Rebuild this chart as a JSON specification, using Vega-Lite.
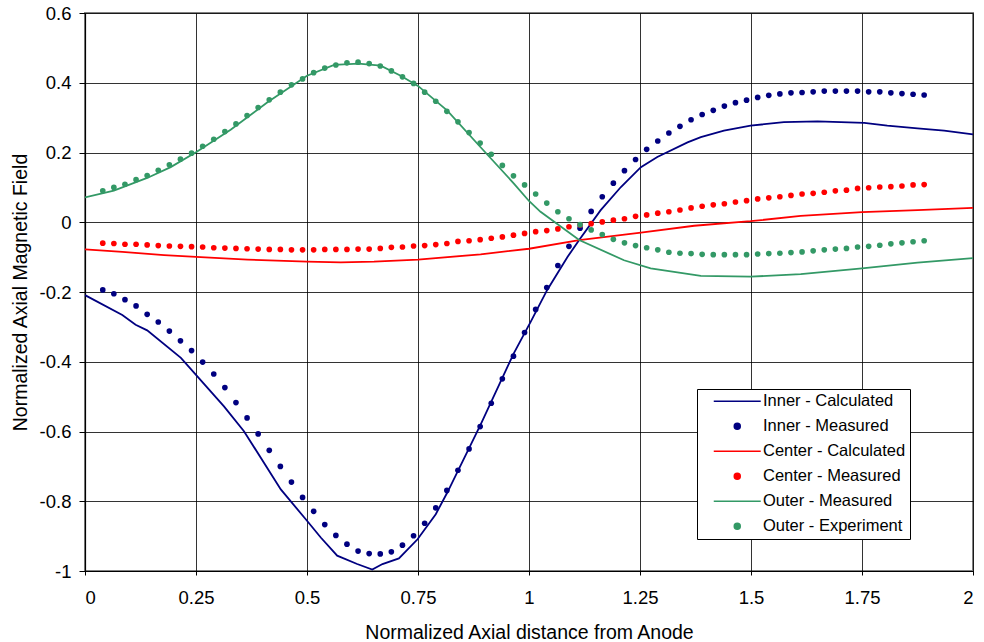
{
  "$schema": "https://vega.github.io/schema/vega-lite/v6.json",
  "autosize": "none",
  "width": 888,
  "height": 558,
  "padding": {"left": 85, "top": 13, "right": 11, "bottom": 71},
  "background": "white",
  "config": {
    "font": "Liberation Sans",
    "view": {"stroke": "#808080", "strokeWidth": 2},
    "axis": {
      "labelFont": "Liberation Sans",
      "titleFont": "Liberation Sans",
      "labelColor": "#000",
      "titleColor": "#000",
      "titleFontWeight": "normal",
      "domainColor": "#000",
      "domainWidth": 1.2,
      "tickColor": "#000",
      "gridColor": "#000",
      "gridOpacity": 0.8,
      "gridWidth": 1
    }
  },
  "datasets": {
    "lines": [
      {"series": "Inner - Calculated", "x": 0, "y": -0.209},
      {"series": "Inner - Calculated", "x": 0.084, "y": -0.266},
      {"series": "Inner - Calculated", "x": 0.114, "y": -0.294},
      {"series": "Inner - Calculated", "x": 0.14, "y": -0.31},
      {"series": "Inner - Calculated", "x": 0.216, "y": -0.389},
      {"series": "Inner - Calculated", "x": 0.253, "y": -0.442},
      {"series": "Inner - Calculated", "x": 0.313, "y": -0.528},
      {"series": "Inner - Calculated", "x": 0.358, "y": -0.599},
      {"series": "Inner - Calculated", "x": 0.441, "y": -0.766},
      {"series": "Inner - Calculated", "x": 0.5, "y": -0.856},
      {"series": "Inner - Calculated", "x": 0.531, "y": -0.904},
      {"series": "Inner - Calculated", "x": 0.568, "y": -0.956},
      {"series": "Inner - Calculated", "x": 0.613, "y": -0.98},
      {"series": "Inner - Calculated", "x": 0.647, "y": -0.996},
      {"series": "Inner - Calculated", "x": 0.67, "y": -0.98},
      {"series": "Inner - Calculated", "x": 0.707, "y": -0.964},
      {"series": "Inner - Calculated", "x": 0.749, "y": -0.909},
      {"series": "Inner - Calculated", "x": 0.79, "y": -0.837},
      {"series": "Inner - Calculated", "x": 0.816, "y": -0.775},
      {"series": "Inner - Calculated", "x": 0.891, "y": -0.58},
      {"series": "Inner - Calculated", "x": 0.966, "y": -0.375},
      {"series": "Inner - Calculated", "x": 1.004, "y": -0.285},
      {"series": "Inner - Calculated", "x": 1.041, "y": -0.194},
      {"series": "Inner - Calculated", "x": 1.087, "y": -0.099},
      {"series": "Inner - Calculated", "x": 1.113, "y": -0.051},
      {"series": "Inner - Calculated", "x": 1.161, "y": 0.034},
      {"series": "Inner - Calculated", "x": 1.207, "y": 0.101},
      {"series": "Inner - Calculated", "x": 1.252, "y": 0.158},
      {"series": "Inner - Calculated", "x": 1.289, "y": 0.187},
      {"series": "Inner - Calculated", "x": 1.357, "y": 0.229},
      {"series": "Inner - Calculated", "x": 1.387, "y": 0.244},
      {"series": "Inner - Calculated", "x": 1.439, "y": 0.263},
      {"series": "Inner - Calculated", "x": 1.499, "y": 0.277},
      {"series": "Inner - Calculated", "x": 1.574, "y": 0.287},
      {"series": "Inner - Calculated", "x": 1.65, "y": 0.289},
      {"series": "Inner - Calculated", "x": 1.755, "y": 0.285},
      {"series": "Inner - Calculated", "x": 1.807, "y": 0.277},
      {"series": "Inner - Calculated", "x": 1.875, "y": 0.269},
      {"series": "Inner - Calculated", "x": 1.935, "y": 0.263},
      {"series": "Inner - Calculated", "x": 2.0, "y": 0.252},
      {"series": "Center - Calculated", "x": 0, "y": -0.078},
      {"series": "Center - Calculated", "x": 0.084, "y": -0.085},
      {"series": "Center - Calculated", "x": 0.178, "y": -0.094},
      {"series": "Center - Calculated", "x": 0.25, "y": -0.099},
      {"series": "Center - Calculated", "x": 0.366, "y": -0.107},
      {"series": "Center - Calculated", "x": 0.5, "y": -0.113},
      {"series": "Center - Calculated", "x": 0.576, "y": -0.115},
      {"series": "Center - Calculated", "x": 0.651, "y": -0.113},
      {"series": "Center - Calculated", "x": 0.75, "y": -0.107},
      {"series": "Center - Calculated", "x": 0.891, "y": -0.092},
      {"series": "Center - Calculated", "x": 1.0, "y": -0.076},
      {"series": "Center - Calculated", "x": 1.113, "y": -0.051},
      {"series": "Center - Calculated", "x": 1.252, "y": -0.03},
      {"series": "Center - Calculated", "x": 1.372, "y": -0.01},
      {"series": "Center - Calculated", "x": 1.499, "y": 0.003},
      {"series": "Center - Calculated", "x": 1.612, "y": 0.018},
      {"series": "Center - Calculated", "x": 1.75, "y": 0.029},
      {"series": "Center - Calculated", "x": 1.875, "y": 0.035},
      {"series": "Center - Calculated", "x": 2.0, "y": 0.041},
      {"series": "Outer - Measured", "x": 0, "y": 0.071},
      {"series": "Outer - Measured", "x": 0.065, "y": 0.091},
      {"series": "Outer - Measured", "x": 0.14, "y": 0.127},
      {"series": "Outer - Measured", "x": 0.193, "y": 0.158},
      {"series": "Outer - Measured", "x": 0.25, "y": 0.201},
      {"series": "Outer - Measured", "x": 0.328, "y": 0.265},
      {"series": "Outer - Measured", "x": 0.411, "y": 0.344},
      {"series": "Outer - Measured", "x": 0.5, "y": 0.42},
      {"series": "Outer - Measured", "x": 0.561, "y": 0.451},
      {"series": "Outer - Measured", "x": 0.616, "y": 0.455},
      {"series": "Outer - Measured", "x": 0.666, "y": 0.449},
      {"series": "Outer - Measured", "x": 0.711, "y": 0.42},
      {"series": "Outer - Measured", "x": 0.75, "y": 0.391},
      {"series": "Outer - Measured", "x": 0.816, "y": 0.32},
      {"series": "Outer - Measured", "x": 0.891, "y": 0.215},
      {"series": "Outer - Measured", "x": 0.966, "y": 0.111},
      {"series": "Outer - Measured", "x": 1.0, "y": 0.061},
      {"series": "Outer - Measured", "x": 1.026, "y": 0.03},
      {"series": "Outer - Measured", "x": 1.113, "y": -0.051},
      {"series": "Outer - Measured", "x": 1.214, "y": -0.109},
      {"series": "Outer - Measured", "x": 1.274, "y": -0.132},
      {"series": "Outer - Measured", "x": 1.387, "y": -0.154},
      {"series": "Outer - Measured", "x": 1.499, "y": -0.156},
      {"series": "Outer - Measured", "x": 1.612, "y": -0.149},
      {"series": "Outer - Measured", "x": 1.75, "y": -0.132},
      {"series": "Outer - Measured", "x": 1.875, "y": -0.116},
      {"series": "Outer - Measured", "x": 2.0, "y": -0.103}
    ],
    "dots": [
      {"series": "Inner - Measured", "x": 0.04, "y": -0.194},
      {"series": "Inner - Measured", "x": 0.065, "y": -0.205},
      {"series": "Inner - Measured", "x": 0.09, "y": -0.222},
      {"series": "Inner - Measured", "x": 0.115, "y": -0.24},
      {"series": "Inner - Measured", "x": 0.14, "y": -0.264},
      {"series": "Inner - Measured", "x": 0.165, "y": -0.286},
      {"series": "Inner - Measured", "x": 0.19, "y": -0.312},
      {"series": "Inner - Measured", "x": 0.215, "y": -0.34},
      {"series": "Inner - Measured", "x": 0.24, "y": -0.368},
      {"series": "Inner - Measured", "x": 0.265, "y": -0.401},
      {"series": "Inner - Measured", "x": 0.29, "y": -0.435},
      {"series": "Inner - Measured", "x": 0.315, "y": -0.474},
      {"series": "Inner - Measured", "x": 0.34, "y": -0.517},
      {"series": "Inner - Measured", "x": 0.365, "y": -0.561},
      {"series": "Inner - Measured", "x": 0.39, "y": -0.607},
      {"series": "Inner - Measured", "x": 0.415, "y": -0.654},
      {"series": "Inner - Measured", "x": 0.44, "y": -0.7},
      {"series": "Inner - Measured", "x": 0.465, "y": -0.745},
      {"series": "Inner - Measured", "x": 0.49, "y": -0.789},
      {"series": "Inner - Measured", "x": 0.515, "y": -0.829},
      {"series": "Inner - Measured", "x": 0.54, "y": -0.867},
      {"series": "Inner - Measured", "x": 0.565, "y": -0.898},
      {"series": "Inner - Measured", "x": 0.59, "y": -0.923},
      {"series": "Inner - Measured", "x": 0.615, "y": -0.943},
      {"series": "Inner - Measured", "x": 0.64, "y": -0.95},
      {"series": "Inner - Measured", "x": 0.665, "y": -0.951},
      {"series": "Inner - Measured", "x": 0.69, "y": -0.945},
      {"series": "Inner - Measured", "x": 0.715, "y": -0.926},
      {"series": "Inner - Measured", "x": 0.74, "y": -0.899},
      {"series": "Inner - Measured", "x": 0.765, "y": -0.863},
      {"series": "Inner - Measured", "x": 0.79, "y": -0.819},
      {"series": "Inner - Measured", "x": 0.815, "y": -0.769},
      {"series": "Inner - Measured", "x": 0.84, "y": -0.711},
      {"series": "Inner - Measured", "x": 0.865, "y": -0.65},
      {"series": "Inner - Measured", "x": 0.89, "y": -0.586},
      {"series": "Inner - Measured", "x": 0.915, "y": -0.519},
      {"series": "Inner - Measured", "x": 0.94, "y": -0.449},
      {"series": "Inner - Measured", "x": 0.965, "y": -0.384},
      {"series": "Inner - Measured", "x": 0.99, "y": -0.316},
      {"series": "Inner - Measured", "x": 1.015, "y": -0.25},
      {"series": "Inner - Measured", "x": 1.04, "y": -0.187},
      {"series": "Inner - Measured", "x": 1.065, "y": -0.124},
      {"series": "Inner - Measured", "x": 1.09, "y": -0.069},
      {"series": "Inner - Measured", "x": 1.115, "y": -0.017},
      {"series": "Inner - Measured", "x": 1.14, "y": 0.031},
      {"series": "Inner - Measured", "x": 1.165, "y": 0.073},
      {"series": "Inner - Measured", "x": 1.19, "y": 0.112},
      {"series": "Inner - Measured", "x": 1.215, "y": 0.148},
      {"series": "Inner - Measured", "x": 1.24, "y": 0.18},
      {"series": "Inner - Measured", "x": 1.265, "y": 0.209},
      {"series": "Inner - Measured", "x": 1.29, "y": 0.233},
      {"series": "Inner - Measured", "x": 1.315, "y": 0.256},
      {"series": "Inner - Measured", "x": 1.34, "y": 0.275},
      {"series": "Inner - Measured", "x": 1.365, "y": 0.294},
      {"series": "Inner - Measured", "x": 1.39, "y": 0.309},
      {"series": "Inner - Measured", "x": 1.415, "y": 0.321},
      {"series": "Inner - Measured", "x": 1.44, "y": 0.333},
      {"series": "Inner - Measured", "x": 1.465, "y": 0.343},
      {"series": "Inner - Measured", "x": 1.49, "y": 0.35},
      {"series": "Inner - Measured", "x": 1.515, "y": 0.358},
      {"series": "Inner - Measured", "x": 1.54, "y": 0.364},
      {"series": "Inner - Measured", "x": 1.565, "y": 0.368},
      {"series": "Inner - Measured", "x": 1.59, "y": 0.371},
      {"series": "Inner - Measured", "x": 1.615, "y": 0.372},
      {"series": "Inner - Measured", "x": 1.64, "y": 0.374},
      {"series": "Inner - Measured", "x": 1.665, "y": 0.376},
      {"series": "Inner - Measured", "x": 1.69, "y": 0.376},
      {"series": "Inner - Measured", "x": 1.715, "y": 0.376},
      {"series": "Inner - Measured", "x": 1.74, "y": 0.376},
      {"series": "Inner - Measured", "x": 1.765, "y": 0.374},
      {"series": "Inner - Measured", "x": 1.79, "y": 0.374},
      {"series": "Inner - Measured", "x": 1.815, "y": 0.371},
      {"series": "Inner - Measured", "x": 1.84, "y": 0.369},
      {"series": "Inner - Measured", "x": 1.865, "y": 0.367},
      {"series": "Inner - Measured", "x": 1.89, "y": 0.365},
      {"series": "Center - Measured", "x": 0.04, "y": -0.06},
      {"series": "Center - Measured", "x": 0.065, "y": -0.061},
      {"series": "Center - Measured", "x": 0.09, "y": -0.063},
      {"series": "Center - Measured", "x": 0.115, "y": -0.063},
      {"series": "Center - Measured", "x": 0.14, "y": -0.065},
      {"series": "Center - Measured", "x": 0.165, "y": -0.067},
      {"series": "Center - Measured", "x": 0.19, "y": -0.068},
      {"series": "Center - Measured", "x": 0.215, "y": -0.069},
      {"series": "Center - Measured", "x": 0.24, "y": -0.07},
      {"series": "Center - Measured", "x": 0.265, "y": -0.071},
      {"series": "Center - Measured", "x": 0.29, "y": -0.073},
      {"series": "Center - Measured", "x": 0.315, "y": -0.074},
      {"series": "Center - Measured", "x": 0.34, "y": -0.075},
      {"series": "Center - Measured", "x": 0.365, "y": -0.076},
      {"series": "Center - Measured", "x": 0.39, "y": -0.077},
      {"series": "Center - Measured", "x": 0.415, "y": -0.078},
      {"series": "Center - Measured", "x": 0.44, "y": -0.078},
      {"series": "Center - Measured", "x": 0.465, "y": -0.079},
      {"series": "Center - Measured", "x": 0.49, "y": -0.079},
      {"series": "Center - Measured", "x": 0.515, "y": -0.079},
      {"series": "Center - Measured", "x": 0.54, "y": -0.078},
      {"series": "Center - Measured", "x": 0.565, "y": -0.078},
      {"series": "Center - Measured", "x": 0.59, "y": -0.078},
      {"series": "Center - Measured", "x": 0.615, "y": -0.077},
      {"series": "Center - Measured", "x": 0.64, "y": -0.077},
      {"series": "Center - Measured", "x": 0.665, "y": -0.075},
      {"series": "Center - Measured", "x": 0.69, "y": -0.072},
      {"series": "Center - Measured", "x": 0.715, "y": -0.071},
      {"series": "Center - Measured", "x": 0.74, "y": -0.068},
      {"series": "Center - Measured", "x": 0.765, "y": -0.067},
      {"series": "Center - Measured", "x": 0.79, "y": -0.064},
      {"series": "Center - Measured", "x": 0.815, "y": -0.061},
      {"series": "Center - Measured", "x": 0.84, "y": -0.055},
      {"series": "Center - Measured", "x": 0.865, "y": -0.053},
      {"series": "Center - Measured", "x": 0.89, "y": -0.05},
      {"series": "Center - Measured", "x": 0.915, "y": -0.046},
      {"series": "Center - Measured", "x": 0.94, "y": -0.042},
      {"series": "Center - Measured", "x": 0.965, "y": -0.037},
      {"series": "Center - Measured", "x": 0.99, "y": -0.032},
      {"series": "Center - Measured", "x": 1.015, "y": -0.027},
      {"series": "Center - Measured", "x": 1.04, "y": -0.024},
      {"series": "Center - Measured", "x": 1.065, "y": -0.019},
      {"series": "Center - Measured", "x": 1.09, "y": -0.013},
      {"series": "Center - Measured", "x": 1.115, "y": -0.008},
      {"series": "Center - Measured", "x": 1.14, "y": -0.004},
      {"series": "Center - Measured", "x": 1.165, "y": 0.001},
      {"series": "Center - Measured", "x": 1.19, "y": 0.006},
      {"series": "Center - Measured", "x": 1.215, "y": 0.01},
      {"series": "Center - Measured", "x": 1.24, "y": 0.017},
      {"series": "Center - Measured", "x": 1.265, "y": 0.021},
      {"series": "Center - Measured", "x": 1.29, "y": 0.026},
      {"series": "Center - Measured", "x": 1.315, "y": 0.03},
      {"series": "Center - Measured", "x": 1.34, "y": 0.035},
      {"series": "Center - Measured", "x": 1.365, "y": 0.041},
      {"series": "Center - Measured", "x": 1.39, "y": 0.046},
      {"series": "Center - Measured", "x": 1.415, "y": 0.05},
      {"series": "Center - Measured", "x": 1.44, "y": 0.053},
      {"series": "Center - Measured", "x": 1.465, "y": 0.058},
      {"series": "Center - Measured", "x": 1.49, "y": 0.062},
      {"series": "Center - Measured", "x": 1.515, "y": 0.067},
      {"series": "Center - Measured", "x": 1.54, "y": 0.07},
      {"series": "Center - Measured", "x": 1.565, "y": 0.073},
      {"series": "Center - Measured", "x": 1.59, "y": 0.077},
      {"series": "Center - Measured", "x": 1.615, "y": 0.081},
      {"series": "Center - Measured", "x": 1.64, "y": 0.083},
      {"series": "Center - Measured", "x": 1.665, "y": 0.086},
      {"series": "Center - Measured", "x": 1.69, "y": 0.09},
      {"series": "Center - Measured", "x": 1.715, "y": 0.092},
      {"series": "Center - Measured", "x": 1.74, "y": 0.097},
      {"series": "Center - Measured", "x": 1.765, "y": 0.099},
      {"series": "Center - Measured", "x": 1.79, "y": 0.101},
      {"series": "Center - Measured", "x": 1.815, "y": 0.102},
      {"series": "Center - Measured", "x": 1.84, "y": 0.104},
      {"series": "Center - Measured", "x": 1.865, "y": 0.107},
      {"series": "Center - Measured", "x": 1.89, "y": 0.108},
      {"series": "Outer - Experiment", "x": 0.04, "y": 0.09},
      {"series": "Outer - Experiment", "x": 0.065, "y": 0.1},
      {"series": "Outer - Experiment", "x": 0.09, "y": 0.109},
      {"series": "Outer - Experiment", "x": 0.115, "y": 0.122},
      {"series": "Outer - Experiment", "x": 0.14, "y": 0.134},
      {"series": "Outer - Experiment", "x": 0.165, "y": 0.149},
      {"series": "Outer - Experiment", "x": 0.19, "y": 0.165},
      {"series": "Outer - Experiment", "x": 0.215, "y": 0.181},
      {"series": "Outer - Experiment", "x": 0.24, "y": 0.198},
      {"series": "Outer - Experiment", "x": 0.265, "y": 0.218},
      {"series": "Outer - Experiment", "x": 0.29, "y": 0.238},
      {"series": "Outer - Experiment", "x": 0.315, "y": 0.26},
      {"series": "Outer - Experiment", "x": 0.34, "y": 0.282},
      {"series": "Outer - Experiment", "x": 0.365, "y": 0.306},
      {"series": "Outer - Experiment", "x": 0.39, "y": 0.329},
      {"series": "Outer - Experiment", "x": 0.415, "y": 0.351},
      {"series": "Outer - Experiment", "x": 0.44, "y": 0.373},
      {"series": "Outer - Experiment", "x": 0.465, "y": 0.394},
      {"series": "Outer - Experiment", "x": 0.49, "y": 0.411},
      {"series": "Outer - Experiment", "x": 0.515, "y": 0.429},
      {"series": "Outer - Experiment", "x": 0.54, "y": 0.442},
      {"series": "Outer - Experiment", "x": 0.565, "y": 0.451},
      {"series": "Outer - Experiment", "x": 0.59, "y": 0.457},
      {"series": "Outer - Experiment", "x": 0.615, "y": 0.459},
      {"series": "Outer - Experiment", "x": 0.64, "y": 0.455},
      {"series": "Outer - Experiment", "x": 0.665, "y": 0.448},
      {"series": "Outer - Experiment", "x": 0.69, "y": 0.434},
      {"series": "Outer - Experiment", "x": 0.715, "y": 0.417},
      {"series": "Outer - Experiment", "x": 0.74, "y": 0.398},
      {"series": "Outer - Experiment", "x": 0.765, "y": 0.373},
      {"series": "Outer - Experiment", "x": 0.79, "y": 0.347},
      {"series": "Outer - Experiment", "x": 0.815, "y": 0.318},
      {"series": "Outer - Experiment", "x": 0.84, "y": 0.288},
      {"series": "Outer - Experiment", "x": 0.865, "y": 0.257},
      {"series": "Outer - Experiment", "x": 0.89, "y": 0.227},
      {"series": "Outer - Experiment", "x": 0.915, "y": 0.195},
      {"series": "Outer - Experiment", "x": 0.94, "y": 0.163},
      {"series": "Outer - Experiment", "x": 0.965, "y": 0.133},
      {"series": "Outer - Experiment", "x": 0.99, "y": 0.107},
      {"series": "Outer - Experiment", "x": 1.015, "y": 0.081},
      {"series": "Outer - Experiment", "x": 1.04, "y": 0.055},
      {"series": "Outer - Experiment", "x": 1.065, "y": 0.03},
      {"series": "Outer - Experiment", "x": 1.09, "y": 0.01},
      {"series": "Outer - Experiment", "x": 1.115, "y": -0.007},
      {"series": "Outer - Experiment", "x": 1.14, "y": -0.022},
      {"series": "Outer - Experiment", "x": 1.165, "y": -0.035},
      {"series": "Outer - Experiment", "x": 1.19, "y": -0.049},
      {"series": "Outer - Experiment", "x": 1.215, "y": -0.059},
      {"series": "Outer - Experiment", "x": 1.24, "y": -0.067},
      {"series": "Outer - Experiment", "x": 1.265, "y": -0.073},
      {"series": "Outer - Experiment", "x": 1.29, "y": -0.079},
      {"series": "Outer - Experiment", "x": 1.315, "y": -0.086},
      {"series": "Outer - Experiment", "x": 1.34, "y": -0.089},
      {"series": "Outer - Experiment", "x": 1.365, "y": -0.09},
      {"series": "Outer - Experiment", "x": 1.39, "y": -0.092},
      {"series": "Outer - Experiment", "x": 1.415, "y": -0.093},
      {"series": "Outer - Experiment", "x": 1.44, "y": -0.093},
      {"series": "Outer - Experiment", "x": 1.465, "y": -0.093},
      {"series": "Outer - Experiment", "x": 1.49, "y": -0.093},
      {"series": "Outer - Experiment", "x": 1.515, "y": -0.091},
      {"series": "Outer - Experiment", "x": 1.54, "y": -0.09},
      {"series": "Outer - Experiment", "x": 1.565, "y": -0.089},
      {"series": "Outer - Experiment", "x": 1.59, "y": -0.087},
      {"series": "Outer - Experiment", "x": 1.615, "y": -0.085},
      {"series": "Outer - Experiment", "x": 1.64, "y": -0.082},
      {"series": "Outer - Experiment", "x": 1.665, "y": -0.079},
      {"series": "Outer - Experiment", "x": 1.69, "y": -0.077},
      {"series": "Outer - Experiment", "x": 1.715, "y": -0.075},
      {"series": "Outer - Experiment", "x": 1.74, "y": -0.071},
      {"series": "Outer - Experiment", "x": 1.765, "y": -0.069},
      {"series": "Outer - Experiment", "x": 1.79, "y": -0.066},
      {"series": "Outer - Experiment", "x": 1.815, "y": -0.062},
      {"series": "Outer - Experiment", "x": 1.84, "y": -0.059},
      {"series": "Outer - Experiment", "x": 1.865, "y": -0.056},
      {"series": "Outer - Experiment", "x": 1.89, "y": -0.053}
    ]
  },
  "encoding": {
    "x": {
      "field": "x",
      "type": "quantitative",
      "scale": {"domain": [0, 2], "nice": false, "zero": false},
      "axis": {
        "title": "Normalized Axial distance from Anode",
        "values": [0, 0.25, 0.5, 0.75, 1, 1.25, 1.5, 1.75, 2],
        "labelExpr": "toString(datum.value)",
        "labelFontSize": 18.5,
        "titleFontSize": 19.5,
        "tickSize": 4,
        "labelPadding": 13.5,
        "titleBaseline": "alphabetic",
        "titleY": 67
      }
    },
    "y": {
      "field": "y",
      "type": "quantitative",
      "scale": {"domain": [-1, 0.6], "nice": false, "zero": false},
      "axis": {
        "title": "Normalized Axial Magnetic Field",
        "values": [-1, -0.8, -0.6, -0.4, -0.2, 0, 0.2, 0.4, 0.6],
        "labelExpr": "toString(datum.value)",
        "labelFontSize": 18.5,
        "titleFontSize": 19.5,
        "tickSize": 6,
        "labelPadding": 8,
        "titleBaseline": "alphabetic",
        "titleX": -59
      }
    },
    "color": {
      "field": "series",
      "type": "nominal",
      "scale": {
        "domain": ["Inner - Calculated", "Inner - Measured", "Center - Calculated", "Center - Measured", "Outer - Measured", "Outer - Experiment"],
        "range": ["#000080", "#000080", "#ff0000", "#ff0000", "#339966", "#339966"]
      },
      "legend": {
        "title": null,
        "orient": "none",
        "legendX": 612,
        "legendY": 376,
        "padding": 4,
        "fillColor": "white",
        "strokeColor": "#000",
        "labelFont": "Liberation Sans",
        "labelFontSize": 16.5,
        "labelColor": "#000",
        "symbolSize": 36,
        "symbolStrokeWidth": 1.5,
        "symbolOffset": 28,
        "labelOffset": 17.5,
        "rowPadding": 8,
        "encode": {
          "symbols": {
            "update": {
              "shape": {"signal": "(indexof(datum.value, 'Calculated') >= 0 || datum.value == 'Outer - Measured') ? 'M-7.83,0H7.83' : 'circle'"},
              "fill": {"signal": "(indexof(datum.value, 'Calculated') >= 0 || datum.value == 'Outer - Measured') ? 'transparent' : (indexof(datum.value, 'Inner') == 0 ? '#000080' : indexof(datum.value, 'Center') == 0 ? '#ff0000' : '#339966')"},
              "stroke": {"signal": "(indexof(datum.value, 'Calculated') >= 0 || datum.value == 'Outer - Measured') ? (indexof(datum.value, 'Inner') == 0 ? '#000080' : indexof(datum.value, 'Center') == 0 ? '#ff0000' : '#339966') : 'transparent'"},
              "opacity": {"value": 1}
            }
          }
        }
      }
    }
  },
  "layer": [
    {
      "data": {"name": "lines"},
      "mark": {"type": "line", "strokeWidth": 1.8, "clip": true},
      "encoding": {"detail": {"field": "series"}}
    },
    {
      "data": {"name": "dots"},
      "mark": {"type": "point", "filled": true, "size": 32, "opacity": 1, "shape": "circle"}
    }
  ]
}
